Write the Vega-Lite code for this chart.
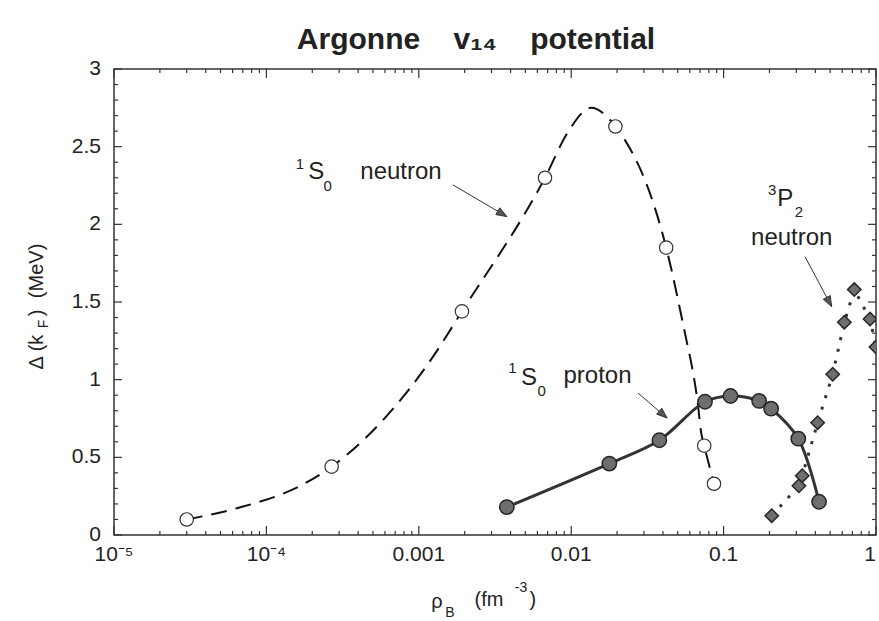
{
  "$schema": "https://vega.github.io/schema/vega-lite/v6.json",
  "width": 762,
  "height": 466,
  "autosize": {"type": "none"},
  "padding": {"left": 114, "top": 69, "right": 3, "bottom": 86},
  "background": "white",
  "title": {"text": "Argonne\u00a0\u00a0\u00a0\u00a0v₁₄\u00a0\u00a0\u00a0\u00a0potential", "font": "Liberation Sans", "fontSize": 30, "fontWeight": "bold", "color": "#222", "offset": 3, "dx": -19},
  "config": {
    "view": {"stroke": "#333", "strokeWidth": 1.5}
  },
  "datasets": {
    "xMajor": [{"v": 0.00001}, {"v": 0.0001}, {"v": 0.001}, {"v": 0.01}, {"v": 0.1}, {"v": 1}],
    "xMinor": [
      {"v": 0.00002}, {"v": 0.00003}, {"v": 0.00004}, {"v": 0.00005}, {"v": 0.00006}, {"v": 0.00007}, {"v": 0.00008}, {"v": 0.00009},
      {"v": 0.0002}, {"v": 0.0003}, {"v": 0.0004}, {"v": 0.0005}, {"v": 0.0006}, {"v": 0.0007}, {"v": 0.0008}, {"v": 0.0009},
      {"v": 0.002}, {"v": 0.003}, {"v": 0.004}, {"v": 0.005}, {"v": 0.006}, {"v": 0.007}, {"v": 0.008}, {"v": 0.009},
      {"v": 0.02}, {"v": 0.03}, {"v": 0.04}, {"v": 0.05}, {"v": 0.06}, {"v": 0.07}, {"v": 0.08}, {"v": 0.09},
      {"v": 0.2}, {"v": 0.3}, {"v": 0.4}, {"v": 0.5}, {"v": 0.6}, {"v": 0.7}, {"v": 0.8}, {"v": 0.9}
    ],
    "yMajor": [{"v": 0}, {"v": 0.5}, {"v": 1}, {"v": 1.5}, {"v": 2}, {"v": 2.5}, {"v": 3}],
    "yMinor": [
      {"v": 0.1}, {"v": 0.2}, {"v": 0.3}, {"v": 0.4}, {"v": 0.6}, {"v": 0.7}, {"v": 0.8}, {"v": 0.9},
      {"v": 1.1}, {"v": 1.2}, {"v": 1.3}, {"v": 1.4}, {"v": 1.6}, {"v": 1.7}, {"v": 1.8}, {"v": 1.9},
      {"v": 2.1}, {"v": 2.2}, {"v": 2.3}, {"v": 2.4}, {"v": 2.6}, {"v": 2.7}, {"v": 2.8}, {"v": 2.9}
    ],
    "xLabels": [
      {"v": 0.00001, "t": "10⁻⁵"}, {"v": 0.0001, "t": "10⁻⁴"}, {"v": 0.001, "t": "0.001"},
      {"v": 0.01, "t": "0.01"}, {"v": 0.1, "t": "0.1"}, {"v": 1, "t": "1"}
    ],
    "yLabels": [
      {"v": 0, "t": "0"}, {"v": 0.5, "t": "0.5"}, {"v": 1, "t": "1"}, {"v": 1.5, "t": "1.5"},
      {"v": 2, "t": "2"}, {"v": 2.5, "t": "2.5"}, {"v": 3, "t": "3"}
    ],
    "neutronCurve": [
      {"x": 0.00003, "y": 0.1}, {"x": 0.000064, "y": 0.172}, {"x": 0.000171, "y": 0.322}, {"x": 0.000268, "y": 0.44},
      {"x": 0.000582, "y": 0.74}, {"x": 0.00124, "y": 1.148}, {"x": 0.00192, "y": 1.44}, {"x": 0.00673, "y": 2.3},
      {"x": 0.0096, "y": 2.6}, {"x": 0.0135, "y": 2.75}, {"x": 0.0195, "y": 2.63}, {"x": 0.042, "y": 1.85},
      {"x": 0.0573, "y": 1.245}, {"x": 0.0618, "y": 1.09}, {"x": 0.0675, "y": 0.858}, {"x": 0.0713, "y": 0.657},
      {"x": 0.0746, "y": 0.575}, {"x": 0.0865, "y": 0.33}
    ],
    "neutronPts": [
      {"x": 0.00003, "y": 0.1}, {"x": 0.000268, "y": 0.44}, {"x": 0.00192, "y": 1.44}, {"x": 0.00673, "y": 2.3},
      {"x": 0.0195, "y": 2.63}, {"x": 0.042, "y": 1.85}, {"x": 0.0746, "y": 0.575}, {"x": 0.0865, "y": 0.33}
    ],
    "protonPts": [
      {"x": 0.00378, "y": 0.18}, {"x": 0.0178, "y": 0.46}, {"x": 0.0379, "y": 0.61}, {"x": 0.0755, "y": 0.858},
      {"x": 0.111, "y": 0.895}, {"x": 0.171, "y": 0.863}, {"x": 0.205, "y": 0.813}, {"x": 0.309, "y": 0.62},
      {"x": 0.423, "y": 0.214}
    ],
    "p32Pts": [
      {"x": 0.207, "y": 0.124}, {"x": 0.312, "y": 0.317}, {"x": 0.328, "y": 0.382}, {"x": 0.414, "y": 0.723},
      {"x": 0.52, "y": 1.035}, {"x": 0.62, "y": 1.37}, {"x": 0.72, "y": 1.58}, {"x": 0.914, "y": 1.39},
      {"x": 1.0, "y": 1.21}
    ],
    "arrows": [
      {"name": "n", "x": 0.001675, "y": 2.254, "x2": 0.00378, "y2": 2.05},
      {"name": "p", "x": 0.0274, "y": 0.914, "x2": 0.0426, "y2": 0.753},
      {"name": "t", "x": 0.342, "y": 1.792, "x2": 0.512, "y2": 1.47}
    ],
    "bigText": [
      {"t": "S", "x": 0.000212, "y": 2.339},
      {"t": "neutron", "x": 0.000764, "y": 2.337},
      {"t": "S", "x": 0.00528, "y": 1.008},
      {"t": "proton", "x": 0.01488, "y": 1.024},
      {"t": "P", "x": 0.2535, "y": 2.164},
      {"t": "neutron", "x": 0.28, "y": 1.912}
    ],
    "smallText": [
      {"t": "1", "x": 0.000166, "y": 2.389},
      {"t": "0", "x": 0.000252, "y": 2.247},
      {"t": "1", "x": 0.00412, "y": 1.075},
      {"t": "0", "x": 0.00639, "y": 0.927},
      {"t": "3", "x": 0.208, "y": 2.218},
      {"t": "2", "x": 0.312, "y": 2.077}
    ],
    "xTitleBig": [
      {"t": "ρ", "x": 0.001315, "y": -0.43},
      {"t": "(fm", "x": 0.00289, "y": -0.4186},
      {"t": ")", "x": 0.00561, "y": -0.4186}
    ],
    "xTitleSmall": [
      {"t": "B", "x": 0.001603, "y": -0.502},
      {"t": "-3", "x": 0.00469, "y": -0.341}
    ],
    "yTitleBig": [
      {"t": "Δ", "x": 0.000003125, "y": 1.108},
      {"t": "(k", "x": 0.000003125, "y": 1.236},
      {"t": ")", "x": 0.000003125, "y": 1.43},
      {"t": "(MeV)", "x": 0.000003125, "y": 1.7}
    ],
    "yTitleSmall": [
      {"t": "F", "x": 0.00000347, "y": 1.359}
    ]
  },
  "layer": [
    {
      "data": {"name": "neutronCurve"},
      "mark": {"type": "line", "stroke": "#111", "strokeWidth": 2, "strokeDash": [16, 9], "interpolate": "monotone"},
      "encoding": {
        "x": {"field": "x", "type": "quantitative", "scale": {"type": "log", "domain": [0.00001, 1], "nice": false}, "axis": null},
        "y": {"field": "y", "type": "quantitative", "scale": {"domain": [0, 3], "nice": false, "zero": false}, "axis": null}
      }
    },
    {
      "data": {"name": "xMajor"},
      "mark": {"type": "rule", "stroke": "#333", "strokeWidth": 1.2},
      "encoding": {"x": {"field": "v", "type": "quantitative", "axis": null}, "y": {"datum": 0, "type": "quantitative", "axis": null}, "y2": {"datum": 0.058}}
    },
    {
      "data": {"name": "xMinor"},
      "mark": {"type": "rule", "stroke": "#333", "strokeWidth": 1.2},
      "encoding": {"x": {"field": "v", "type": "quantitative", "axis": null}, "y": {"datum": 0, "type": "quantitative", "axis": null}, "y2": {"datum": 0.026}}
    },
    {
      "data": {"name": "xMajor"},
      "mark": {"type": "rule", "stroke": "#333", "strokeWidth": 1.2},
      "encoding": {"x": {"field": "v", "type": "quantitative", "axis": null}, "y": {"datum": 3, "type": "quantitative", "axis": null}, "y2": {"datum": 2.942}}
    },
    {
      "data": {"name": "xMinor"},
      "mark": {"type": "rule", "stroke": "#333", "strokeWidth": 1.2},
      "encoding": {"x": {"field": "v", "type": "quantitative", "axis": null}, "y": {"datum": 3, "type": "quantitative", "axis": null}, "y2": {"datum": 2.974}}
    },
    {
      "data": {"name": "yMajor"},
      "mark": {"type": "rule", "stroke": "#333", "strokeWidth": 1.2},
      "encoding": {"y": {"field": "v", "type": "quantitative", "axis": null}, "x": {"datum": 0.00001, "type": "quantitative", "axis": null}, "x2": {"datum": 0.00001128}}
    },
    {
      "data": {"name": "yMinor"},
      "mark": {"type": "rule", "stroke": "#333", "strokeWidth": 1.2},
      "encoding": {"y": {"field": "v", "type": "quantitative", "axis": null}, "x": {"datum": 0.00001, "type": "quantitative", "axis": null}, "x2": {"datum": 0.00001062}}
    },
    {
      "data": {"name": "yMajor"},
      "mark": {"type": "rule", "stroke": "#333", "strokeWidth": 1.2},
      "encoding": {"y": {"field": "v", "type": "quantitative", "axis": null}, "x": {"datum": 1, "type": "quantitative", "axis": null}, "x2": {"datum": 0.886}}
    },
    {
      "data": {"name": "yMinor"},
      "mark": {"type": "rule", "stroke": "#333", "strokeWidth": 1.2},
      "encoding": {"y": {"field": "v", "type": "quantitative", "axis": null}, "x": {"datum": 1, "type": "quantitative", "axis": null}, "x2": {"datum": 0.9414}}
    },
    {
      "data": {"name": "xLabels"},
      "transform": [{"filter": "datum.v < 0.5"}],
      "mark": {"type": "text", "font": "Liberation Sans", "fontSize": 21, "align": "center", "baseline": "top", "dy": 9, "fill": "#222"},
      "encoding": {"x": {"field": "v", "type": "quantitative", "axis": null}, "y": {"datum": 0, "type": "quantitative", "axis": null}, "text": {"field": "t", "type": "nominal"}}
    },
    {
      "data": {"name": "xLabels"},
      "transform": [{"filter": "datum.v > 0.5"}],
      "mark": {"type": "text", "font": "Liberation Sans", "fontSize": 21, "align": "right", "baseline": "top", "dy": 9, "fill": "#222"},
      "encoding": {"x": {"field": "v", "type": "quantitative", "axis": null}, "y": {"datum": 0, "type": "quantitative", "axis": null}, "text": {"field": "t", "type": "nominal"}}
    },
    {
      "data": {"name": "yLabels"},
      "mark": {"type": "text", "font": "Liberation Sans", "fontSize": 21, "align": "right", "baseline": "middle", "dx": -13, "fill": "#222"},
      "encoding": {"y": {"field": "v", "type": "quantitative", "axis": null}, "x": {"datum": 0.00001, "type": "quantitative", "axis": null}, "text": {"field": "t", "type": "nominal"}}
    },
    {
      "data": {"name": "protonPts"},
      "mark": {"type": "line", "stroke": "#333", "strokeWidth": 3, "interpolate": "catmull-rom"},
      "encoding": {"x": {"field": "x", "type": "quantitative", "axis": null}, "y": {"field": "y", "type": "quantitative", "axis": null}}
    },
    {
      "data": {"name": "p32Pts"},
      "mark": {"type": "line", "stroke": "#333", "strokeWidth": 3, "strokeDash": [3, 9], "clip": true},
      "encoding": {"x": {"field": "x", "type": "quantitative", "axis": null}, "y": {"field": "y", "type": "quantitative", "axis": null}}
    },
    {
      "data": {"name": "neutronPts"},
      "mark": {"type": "point", "shape": "circle", "size": 180, "filled": true, "fill": "white", "stroke": "#333", "strokeWidth": 1.2, "opacity": 1},
      "encoding": {"x": {"field": "x", "type": "quantitative", "axis": null}, "y": {"field": "y", "type": "quantitative", "axis": null}}
    },
    {
      "data": {"name": "protonPts"},
      "mark": {"type": "point", "shape": "circle", "size": 205, "filled": true, "fill": "#6e6e6e", "stroke": "#262626", "strokeWidth": 1.5, "opacity": 1},
      "encoding": {"x": {"field": "x", "type": "quantitative", "axis": null}, "y": {"field": "y", "type": "quantitative", "axis": null}}
    },
    {
      "data": {"name": "p32Pts"},
      "mark": {"type": "point", "shape": "diamond", "size": 180, "filled": true, "fill": "#6e6e6e", "stroke": "#262626", "strokeWidth": 1.5, "opacity": 1, "clip": true},
      "encoding": {"x": {"field": "x", "type": "quantitative", "axis": null}, "y": {"field": "y", "type": "quantitative", "axis": null}}
    },
    {
      "data": {"name": "arrows"},
      "mark": {"type": "rule", "stroke": "#333", "strokeWidth": 1},
      "encoding": {
        "x": {"field": "x", "type": "quantitative", "axis": null},
        "y": {"field": "y", "type": "quantitative", "axis": null},
        "x2": {"field": "x2"},
        "y2": {"field": "y2"}
      }
    },
    {
      "data": {"name": "arrows"},
      "transform": [{"filter": "datum.name == 'n'"}],
      "mark": {"type": "point", "shape": "M0,0L-2,-0.75L-2,0.75Z", "size": 110, "filled": true, "fill": "#555", "stroke": "#222", "strokeWidth": 0.8, "opacity": 1, "angle": 30.6},
      "encoding": {"x": {"field": "x2", "type": "quantitative", "axis": null}, "y": {"field": "y2", "type": "quantitative", "axis": null}}
    },
    {
      "data": {"name": "arrows"},
      "transform": [{"filter": "datum.name == 'p'"}],
      "mark": {"type": "point", "shape": "M0,0L-2,-0.75L-2,0.75Z", "size": 110, "filled": true, "fill": "#555", "stroke": "#222", "strokeWidth": 0.8, "opacity": 1, "angle": 40.8},
      "encoding": {"x": {"field": "x2", "type": "quantitative", "axis": null}, "y": {"field": "y2", "type": "quantitative", "axis": null}}
    },
    {
      "data": {"name": "arrows"},
      "transform": [{"filter": "datum.name == 't'"}],
      "mark": {"type": "point", "shape": "M0,0L-2,-0.75L-2,0.75Z", "size": 110, "filled": true, "fill": "#555", "stroke": "#222", "strokeWidth": 0.8, "opacity": 1, "angle": 61.9},
      "encoding": {"x": {"field": "x2", "type": "quantitative", "axis": null}, "y": {"field": "y2", "type": "quantitative", "axis": null}}
    },
    {
      "data": {"name": "bigText"},
      "mark": {"type": "text", "font": "Liberation Sans", "fontSize": 24, "align": "center", "baseline": "middle", "fill": "#222"},
      "encoding": {"x": {"field": "x", "type": "quantitative", "axis": null}, "y": {"field": "y", "type": "quantitative", "axis": null}, "text": {"field": "t", "type": "nominal"}}
    },
    {
      "data": {"name": "smallText"},
      "mark": {"type": "text", "font": "Liberation Sans", "fontSize": 15, "align": "center", "baseline": "middle", "fill": "#222"},
      "encoding": {"x": {"field": "x", "type": "quantitative", "axis": null}, "y": {"field": "y", "type": "quantitative", "axis": null}, "text": {"field": "t", "type": "nominal"}}
    },
    {
      "data": {"name": "xTitleBig"},
      "mark": {"type": "text", "font": "Liberation Sans", "fontSize": 20, "align": "center", "baseline": "middle", "fill": "#222"},
      "encoding": {"x": {"field": "x", "type": "quantitative", "axis": null}, "y": {"field": "y", "type": "quantitative", "axis": null}, "text": {"field": "t", "type": "nominal"}}
    },
    {
      "data": {"name": "xTitleSmall"},
      "mark": {"type": "text", "font": "Liberation Sans", "fontSize": 14, "align": "center", "baseline": "middle", "fill": "#222"},
      "encoding": {"x": {"field": "x", "type": "quantitative", "axis": null}, "y": {"field": "y", "type": "quantitative", "axis": null}, "text": {"field": "t", "type": "nominal"}}
    },
    {
      "data": {"name": "yTitleBig"},
      "mark": {"type": "text", "font": "Liberation Sans", "fontSize": 20, "align": "center", "baseline": "middle", "angle": 270, "fill": "#222"},
      "encoding": {"x": {"field": "x", "type": "quantitative", "axis": null}, "y": {"field": "y", "type": "quantitative", "axis": null}, "text": {"field": "t", "type": "nominal"}}
    },
    {
      "data": {"name": "yTitleSmall"},
      "mark": {"type": "text", "font": "Liberation Sans", "fontSize": 14, "align": "center", "baseline": "middle", "angle": 270, "fill": "#222"},
      "encoding": {"x": {"field": "x", "type": "quantitative", "axis": null}, "y": {"field": "y", "type": "quantitative", "axis": null}, "text": {"field": "t", "type": "nominal"}}
    }
  ]
}
